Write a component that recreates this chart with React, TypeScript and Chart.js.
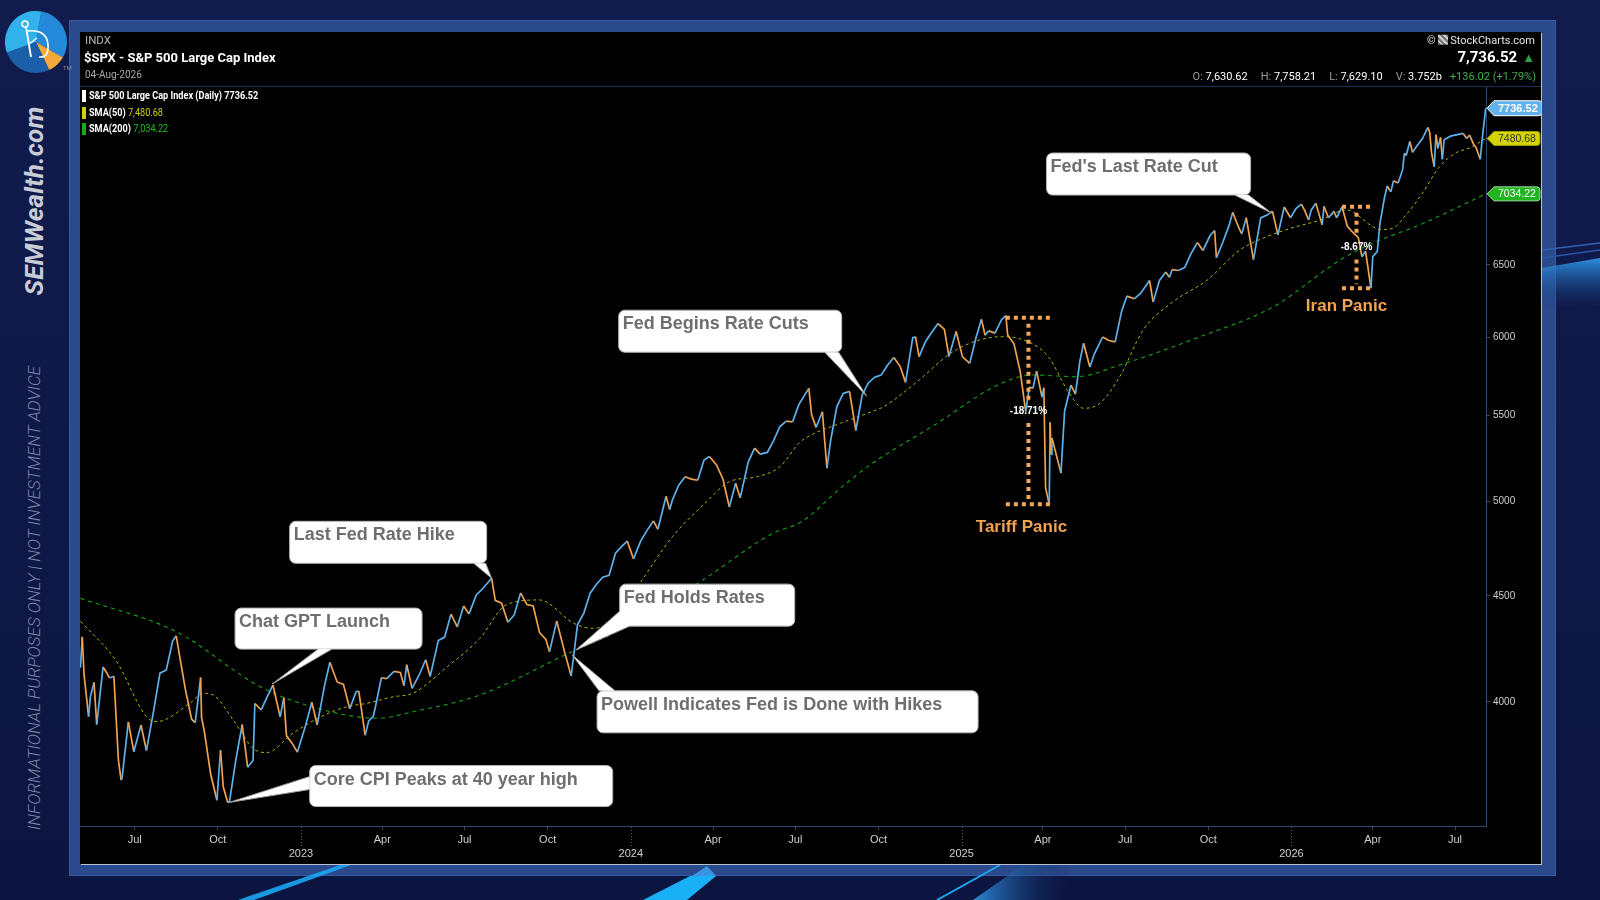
import React, { useEffect, useRef } from 'react';
import { Chart, registerables } from 'chart.js';

Chart.register(...registerables);

// ---------------- DATA ----------------
// S&P 500 closes [date, close]
const priceSeries: [string, number][] = [
  ['2022-05-02', 4155], ['2022-05-04', 4300], ['2022-05-06', 4123], ['2022-05-11', 3935], ['2022-05-13', 4023],
  ['2022-05-17', 4088], ['2022-05-20', 3901], ['2022-05-27', 4158], ['2022-05-31', 4132], ['2022-06-03', 4108],
  ['2022-06-08', 4116], ['2022-06-13', 3750], ['2022-06-16', 3667], ['2022-06-17', 3675], ['2022-06-24', 3912],
  ['2022-06-30', 3785], ['2022-07-08', 3899], ['2022-07-14', 3790], ['2022-07-22', 3962], ['2022-07-29', 4130],
  ['2022-08-05', 4145], ['2022-08-12', 4280], ['2022-08-16', 4305], ['2022-08-19', 4228], ['2022-08-26', 4058],
  ['2022-09-02', 3924], ['2022-09-06', 3909], ['2022-09-12', 4110], ['2022-09-13', 3932], ['2022-09-16', 3873],
  ['2022-09-23', 3693], ['2022-09-30', 3586], ['2022-10-04', 3791], ['2022-10-07', 3640], ['2022-10-12', 3577],
  ['2022-10-14', 3583], ['2022-10-21', 3752], ['2022-10-28', 3901], ['2022-11-03', 3720], ['2022-11-09', 3748],
  ['2022-11-11', 3993], ['2022-11-18', 3965], ['2022-11-25', 4026], ['2022-12-01', 4076], ['2022-12-09', 3934],
  ['2022-12-13', 4019], ['2022-12-16', 3852], ['2022-12-22', 3822], ['2022-12-28', 3783],
  ['2023-01-06', 3895], ['2023-01-13', 3999], ['2023-01-19', 3899], ['2023-01-27', 4071], ['2023-02-02', 4180],
  ['2023-02-10', 4090], ['2023-02-17', 4079], ['2023-02-24', 3970], ['2023-03-03', 4046], ['2023-03-06', 4048],
  ['2023-03-13', 3855], ['2023-03-17', 3917], ['2023-03-22', 3937], ['2023-03-24', 3971], ['2023-03-31', 4109],
  ['2023-04-06', 4105], ['2023-04-14', 4138], ['2023-04-21', 4133], ['2023-04-25', 4072], ['2023-04-28', 4169],
  ['2023-05-04', 4061], ['2023-05-12', 4124], ['2023-05-19', 4192], ['2023-05-24', 4115], ['2023-06-02', 4282],
  ['2023-06-09', 4299], ['2023-06-16', 4410], ['2023-06-23', 4348], ['2023-06-30', 4450], ['2023-07-06', 4411],
  ['2023-07-14', 4505], ['2023-07-21', 4536], ['2023-07-31', 4589], ['2023-08-04', 4478], ['2023-08-11', 4464],
  ['2023-08-18', 4370], ['2023-08-25', 4406], ['2023-09-01', 4515], ['2023-09-08', 4457], ['2023-09-15', 4450],
  ['2023-09-22', 4320], ['2023-09-29', 4288], ['2023-10-03', 4229], ['2023-10-11', 4376], ['2023-10-20', 4224],
  ['2023-10-27', 4117], ['2023-11-03', 4358], ['2023-11-10', 4415], ['2023-11-17', 4514], ['2023-11-24', 4559],
  ['2023-12-01', 4595], ['2023-12-08', 4604], ['2023-12-15', 4719], ['2023-12-22', 4755], ['2023-12-28', 4783],
  ['2024-01-04', 4689], ['2024-01-12', 4784], ['2024-01-19', 4840], ['2024-01-26', 4891], ['2024-01-31', 4846],
  ['2024-02-09', 5027], ['2024-02-13', 4953], ['2024-02-16', 5006], ['2024-02-23', 5089], ['2024-03-01', 5137],
  ['2024-03-08', 5124], ['2024-03-15', 5117], ['2024-03-22', 5234], ['2024-03-28', 5254], ['2024-04-05', 5204],
  ['2024-04-12', 5123], ['2024-04-19', 4967], ['2024-04-26', 5100], ['2024-05-01', 5018], ['2024-05-10', 5223],
  ['2024-05-17', 5303], ['2024-05-23', 5268], ['2024-05-31', 5278], ['2024-06-07', 5347], ['2024-06-14', 5432],
  ['2024-06-21', 5465], ['2024-06-28', 5460], ['2024-07-05', 5567], ['2024-07-16', 5667], ['2024-07-19', 5505],
  ['2024-07-24', 5427], ['2024-07-31', 5522], ['2024-08-05', 5186], ['2024-08-09', 5344], ['2024-08-16', 5554],
  ['2024-08-23', 5635], ['2024-08-30', 5648], ['2024-09-06', 5408], ['2024-09-13', 5626], ['2024-09-20', 5703],
  ['2024-09-27', 5738], ['2024-10-04', 5751], ['2024-10-11', 5815], ['2024-10-18', 5865], ['2024-10-25', 5808],
  ['2024-10-31', 5705], ['2024-11-08', 5996], ['2024-11-11', 6001], ['2024-11-15', 5871], ['2024-11-22', 5969],
  ['2024-11-29', 6032], ['2024-12-06', 6090], ['2024-12-13', 6051], ['2024-12-18', 5872], ['2024-12-26', 6037],
  ['2025-01-02', 5869], ['2025-01-10', 5827], ['2025-01-17', 5997], ['2025-01-23', 6119], ['2025-01-27', 6012],
  ['2025-01-31', 6041], ['2025-02-07', 6026], ['2025-02-14', 6115], ['2025-02-19', 6144], ['2025-02-21', 6013],
  ['2025-02-28', 5955], ['2025-03-07', 5770], ['2025-03-13', 5522], ['2025-03-17', 5675], ['2025-03-21', 5668],
  ['2025-03-25', 5777], ['2025-03-31', 5612], ['2025-04-02', 5671], ['2025-04-04', 5074], ['2025-04-08', 4982],
  ['2025-04-09', 5457], ['2025-04-10', 5268], ['2025-04-11', 5363], ['2025-04-21', 5158], ['2025-04-25', 5525],
  ['2025-05-02', 5687], ['2025-05-07', 5631], ['2025-05-12', 5844], ['2025-05-16', 5958], ['2025-05-23', 5803],
  ['2025-05-28', 5889], ['2025-06-06', 6000], ['2025-06-13', 5977], ['2025-06-20', 5968], ['2025-06-27', 6173],
  ['2025-07-03', 6279], ['2025-07-11', 6260], ['2025-07-18', 6297], ['2025-07-28', 6389], ['2025-08-01', 6238],
  ['2025-08-08', 6389], ['2025-08-15', 6450], ['2025-08-19', 6411], ['2025-08-22', 6467], ['2025-08-29', 6460],
  ['2025-09-05', 6482], ['2025-09-12', 6584], ['2025-09-19', 6664], ['2025-09-25', 6605], ['2025-10-03', 6716],
  ['2025-10-08', 6753], ['2025-10-10', 6552], ['2025-10-17', 6664], ['2025-10-24', 6792], ['2025-10-28', 6891],
  ['2025-11-04', 6771], ['2025-11-07', 6728], ['2025-11-12', 6851], ['2025-11-20', 6538], ['2025-11-28', 6849],
  ['2025-12-05', 6870], ['2025-12-11', 6901], ['2025-12-17', 6721], ['2025-12-24', 6932], ['2025-12-31', 6850],
  ['2026-01-06', 6920], ['2026-01-12', 6954], ['2026-01-16', 6900], ['2026-01-20', 6833], ['2026-01-23', 6910],
  ['2026-01-28', 6962], ['2026-02-04', 6796], ['2026-02-06', 6937], ['2026-02-11', 6850], ['2026-02-17', 6900],
  ['2026-02-20', 6850], ['2026-02-26', 6933], ['2026-03-04', 6783], ['2026-03-10', 6740], ['2026-03-16', 6700],
  ['2026-03-20', 6560], ['2026-03-24', 6600], ['2026-03-30', 6334], ['2026-04-01', 6560], ['2026-04-06', 6598],
  ['2026-04-09', 6810], ['2026-04-14', 7006], ['2026-04-17', 7096], ['2026-04-21', 7050], ['2026-04-24', 7138],
  ['2026-04-29', 7120], ['2026-05-04', 7224], ['2026-05-06', 7359], ['2026-05-08', 7340], ['2026-05-12', 7456],
  ['2026-05-15', 7366], ['2026-05-20', 7420], ['2026-05-26', 7480], ['2026-06-01', 7573], ['2026-06-03', 7530],
  ['2026-06-05', 7366], ['2026-06-08', 7251], ['2026-06-10', 7512], ['2026-06-12', 7398], ['2026-06-15', 7490],
  ['2026-06-17', 7310], ['2026-06-19', 7470], ['2026-06-26', 7500], ['2026-07-10', 7523], ['2026-07-14', 7480],
  ['2026-07-17', 7510], ['2026-07-22', 7425], ['2026-07-24', 7410], ['2026-07-29', 7310], ['2026-07-31', 7470],
  ['2026-08-04', 7736.52],
];

// SMA(50)
const sma50Series: [string, number][] = [
  ['2022-05-02', 4375], ['2022-06-10', 4190], ['2022-07-18', 3921], ['2022-07-26', 3914], ['2022-08-31', 3994],
  ['2022-09-15', 4039], ['2022-09-26', 4031], ['2022-10-18', 3921], ['2022-11-09', 3799], ['2022-11-24', 3781],
  ['2022-12-23', 3863], ['2023-01-23', 3935], ['2023-02-21', 3979], ['2023-03-15', 3994], ['2023-04-13', 4023],
  ['2023-05-05', 4039], ['2023-06-12', 4160], ['2023-07-18', 4293], ['2023-08-16', 4455], ['2023-09-22', 4480],
  ['2023-10-30', 4365], ['2023-11-20', 4341], ['2023-12-15', 4389], ['2024-01-11', 4564], ['2024-02-16', 4806],
  ['2024-03-25', 4997], ['2024-04-19', 5109], ['2024-05-20', 5138], ['2024-06-14', 5195], ['2024-07-05', 5332],
  ['2024-07-15', 5371], ['2024-08-20', 5452], ['2024-09-19', 5513], ['2024-10-07', 5554], ['2024-11-13', 5710],
  ['2024-12-20', 5893], ['2025-01-15', 5969], ['2025-02-14', 6002], ['2025-03-04', 5992], ['2025-04-07', 5870],
  ['2025-04-28', 5657], ['2025-05-16', 5543], ['2025-06-03', 5574], ['2025-06-25', 5741], ['2025-07-21', 6047],
  ['2025-08-22', 6235], ['2025-09-30', 6393], ['2025-11-05', 6609], ['2025-12-05', 6708], ['2025-12-31', 6770],
  ['2026-02-02', 6833], ['2026-03-03', 6910], ['2026-04-01', 6783], ['2026-04-10', 6760], ['2026-04-23', 6770],
  ['2026-05-08', 6873], ['2026-05-26', 7040], ['2026-06-14', 7251], ['2026-07-03', 7366], ['2026-07-17', 7402],
  ['2026-08-04', 7480.68],
];

// SMA(200)
const sma200Series: [string, number][] = [
  ['2022-05-02', 4488], ['2022-08-16', 4325], ['2022-11-17', 4068], ['2023-01-13', 3979], ['2023-03-27', 3928],
  ['2023-05-05', 3957], ['2023-07-18', 4031], ['2023-10-24', 4222], ['2023-12-28', 4349], ['2024-03-18', 4572],
  ['2024-06-06', 4824], ['2024-07-08', 4887], ['2024-08-20', 5072], ['2024-09-19', 5195], ['2024-12-02', 5441],
  ['2025-02-14', 5699], ['2025-03-21', 5752], ['2025-05-08', 5741], ['2025-06-25', 5816], ['2025-09-22', 6002],
  ['2025-12-12', 6205], ['2026-02-24', 6536], ['2026-04-01', 6659], ['2026-05-27', 6808], ['2026-08-04', 7034.22],
];

const yTickValues = [4000, 4500, 5000, 5500, 6000, 6500];
const xTicks: [string, string][] = [
  ['2022-07-01', 'Jul'], ['2022-10-01', 'Oct'], ['2023-01-01', '2023'], ['2023-04-01', 'Apr'],
  ['2023-07-01', 'Jul'], ['2023-10-01', 'Oct'], ['2024-01-01', '2024'], ['2024-04-01', 'Apr'],
  ['2024-07-01', 'Jul'], ['2024-10-01', 'Oct'], ['2025-01-01', '2025'], ['2025-04-01', 'Apr'],
  ['2025-07-01', 'Jul'], ['2025-10-01', 'Oct'], ['2026-01-01', '2026'], ['2026-04-01', 'Apr'],
  ['2026-07-01', 'Jul'],
];

const quote = { open: '7,630.62', high: '7,758.21', low: '7,629.10', vol: '3.752b', change: '+136.02 (+1.79%)', last: '7,736.52' };
const legendRows = [
  { name: 'S&P 500 Large Cap Index (Daily) 7736.52', value: '', swatch: '#ffffff', valueColor: '#ffffff' },
  { name: 'SMA(50)', value: '7,480.68', swatch: '#d2d200', valueColor: '#d2d200' },
  { name: 'SMA(200)', value: '7,034.22', swatch: '#16b016', valueColor: '#22bb22' },
];

// annotations: anchored at a data point; box offsets are layout
const callouts = [
  { text: 'Core CPI Peaks at 40 year high', date: '2022-10-13', price: 3577, dx: 81, dy: -37, w: 303, h: 41, tail: [[0, 11], [0, 24]] },
  { text: 'Chat GPT Launch', date: '2022-11-30', price: 4080, dx: -37, dy: -76, w: 187, h: 41, tail: [[83, 41], [97, 41]] },
  { text: 'Last Fed Rate Hike', date: '2023-07-31', price: 4589, dx: -202, dy: -57, w: 197, h: 42, tail: [[184, 42], [196, 42]] },
  { text: 'Fed Holds Rates', date: '2023-11-01', price: 4237, dx: 44, dy: -66, w: 175, h: 42, tail: [[0, 27], [10, 42]] },
  { text: 'Powell Indicates Fed is Done with Hikes', date: '2023-10-28', price: 4215, dx: 25, dy: 36, w: 381, h: 42, tail: [[2, 0], [18, 0]] },
  { text: 'Fed Begins Rate Cuts', date: '2024-09-18', price: 5618, dx: -248, dy: -86, w: 223, h: 42, tail: [[206, 42], [220, 42]] },
  { text: "Fed's Last Rate Cut", date: '2025-12-10', price: 6886, dx: -225, dy: -60, w: 204, h: 42, tail: [[188, 42], [202, 42]] },
];

const drawdowns = [
  { start: '2025-02-19', end: '2025-04-10', high: 6129, low: 4982, label: '-18.71%', title: 'Tariff Panic', tdx: -7, tdy: 23 },
  { start: '2026-02-26', end: '2026-03-30', high: 6935, low: 6334, label: '-8.67%', title: 'Iran Panic', tdx: -10, tdy: 18 },
];

// ---------------- HELPERS ----------------
const toDay = (s: string) => Date.parse(s + 'T00:00:00Z') / 86400000;
const X_MIN = toDay('2022-05-01') + 0.5;
const X_MAX = toDay('2026-08-04') + 0.3;
const Y_MIN = 3485;
const Y_MAX = 7921;

const BLUE = '#5db1ec';
const ORANGE = '#f0a24f';
const AXIS = '#2c4a70';
const SANS = '"Liberation Sans", Arial, sans-serif';

const isYear = (lbl: string) => /^\d{4}$/.test(lbl);

const notesPlugin = {
  id: 'notes',
  afterDatasetsDraw(chart: any) {
    const { ctx, scales } = chart;
    const xs = scales.x;
    const ys = scales.y;
    ctx.save();
    // drawdown brackets
    for (const d of drawdowns) {
      const x1 = xs.getPixelForValue(toDay(d.start));
      const x2 = xs.getPixelForValue(toDay(d.end));
      const xm = (x1 + x2) / 2;
      const yt = ys.getPixelForValue(d.high);
      const yb = ys.getPixelForValue(d.low);
      const ym = (yt + yb) / 2;
      ctx.strokeStyle = '#f3a65c';
      ctx.lineWidth = 4;
      ctx.setLineDash([4, 4]);
      ctx.beginPath();
      ctx.moveTo(x1, yt); ctx.lineTo(x2, yt);
      ctx.moveTo(x1, yb); ctx.lineTo(x2, yb);
      ctx.moveTo(xm, yt + 6); ctx.lineTo(xm, ym - 11);
      ctx.moveTo(xm, ym + 12); ctx.lineTo(xm, yb - 4);
      ctx.stroke();
      ctx.setLineDash([]);
      ctx.textAlign = 'center';
      ctx.textBaseline = 'middle';
      ctx.font = `bold 10px ${SANS}`;
      ctx.fillStyle = '#ffffff';
      ctx.fillText(d.label, xm, ym);
      ctx.font = `bold 17px ${SANS}`;
      ctx.fillStyle = '#f0a352';
      ctx.fillText(d.title, xm + d.tdx, yb + d.tdy);
    }
    // callouts
    for (const c of callouts) {
      const tx = xs.getPixelForValue(toDay(c.date));
      const ty = ys.getPixelForValue(c.price);
      const bx = tx + c.dx;
      const by = ty + c.dy;
      const [b1, b2] = c.tail;
      ctx.lineWidth = 1;
      ctx.strokeStyle = '#b5b5b5';
      ctx.fillStyle = '#ffffff';
      ctx.beginPath();
      (ctx as any).roundRect(bx, by, c.w, c.h, 6);
      ctx.fill();
      ctx.stroke();
      ctx.beginPath();
      ctx.moveTo(bx + b1[0], by + b1[1]);
      ctx.lineTo(tx, ty);
      ctx.lineTo(bx + b2[0], by + b2[1]);
      ctx.closePath();
      ctx.fill();
      ctx.beginPath();
      ctx.moveTo(bx + b1[0], by + b1[1]);
      ctx.lineTo(tx, ty);
      ctx.lineTo(bx + b2[0], by + b2[1]);
      ctx.strokeStyle = '#9a9a9a';
      ctx.stroke();
      ctx.font = `bold 18px ${SANS}`;
      ctx.fillStyle = '#6e6e6e';
      ctx.textAlign = 'left';
      ctx.textBaseline = 'alphabetic';
      ctx.fillText(c.text, bx + 4, by + 19);
    }
    ctx.restore();
  },
  afterDraw(chart: any) {
    const { ctx, scales, chartArea } = chart;
    const xs = scales.x;
    const ys = scales.y;
    ctx.save();
    // dotted year ticks
    ctx.strokeStyle = '#3b5a82';
    ctx.lineWidth = 1;
    ctx.setLineDash([1, 2]);
    for (const [d, lbl] of xTicks) {
      if (!isYear(lbl)) continue;
      const px = Math.round(xs.getPixelForValue(toDay(d))) + 0.5;
      ctx.beginPath();
      ctx.moveTo(px, chartArea.bottom + 1);
      ctx.lineTo(px, chartArea.bottom + 21);
      ctx.stroke();
    }
    ctx.setLineDash([]);
    // value tags on right axis
    const tags = [
      { v: priceSeries[priceSeries.length - 1][1], fill: '#63b1ea', stroke: '#ffffff', color: '#ffffff', font: `bold 11px ${SANS}`, h: 15 },
      { v: sma50Series[sma50Series.length - 1][1], fill: '#d4d400', stroke: '#9a9a00', color: '#333333', font: `10.5px ${SANS}`, h: 14 },
      { v: sma200Series[sma200Series.length - 1][1], fill: '#21b621', stroke: '#9ee09e', color: '#ffffff', font: `10.5px ${SANS}`, h: 14 },
    ];
    for (const t of tags) {
      const y = ys.getPixelForValue(t.v);
      const txt = t.v.toFixed(2);
      ctx.font = t.font;
      const tw = ctx.measureText(txt).width;
      const x0 = chartArea.right + 1;
      const ax = 7;
      const w = tw + 8;
      const h = t.h;
      ctx.beginPath();
      ctx.moveTo(x0, y);
      ctx.lineTo(x0 + ax, y - h / 2);
      ctx.lineTo(x0 + ax + w - 3, y - h / 2);
      ctx.quadraticCurveTo(x0 + ax + w, y - h / 2, x0 + ax + w, y - h / 2 + 3);
      ctx.lineTo(x0 + ax + w, y + h / 2 - 3);
      ctx.quadraticCurveTo(x0 + ax + w, y + h / 2, x0 + ax + w - 3, y + h / 2);
      ctx.lineTo(x0 + ax, y + h / 2);
      ctx.closePath();
      ctx.fillStyle = t.fill;
      ctx.fill();
      ctx.strokeStyle = t.stroke;
      ctx.lineWidth = 1;
      ctx.stroke();
      ctx.fillStyle = t.color;
      ctx.textAlign = 'center';
      ctx.textBaseline = 'middle';
      ctx.fillText(txt, x0 + ax + w / 2, y + 0.5);
    }
    ctx.restore();
  },
};

function PriceChart() {
  const ref = useRef<HTMLCanvasElement | null>(null);
  useEffect(() => {
    if (!ref.current) return;
    const chart = new Chart(ref.current, {
      type: 'line',
      data: {
        datasets: [
          {
            label: 'S&P 500',
            data: priceSeries.map(([d, v]) => ({ x: toDay(d), y: v })),
            borderColor: BLUE,
            borderWidth: 1.7,
            pointRadius: 0,
            tension: 0,
            segment: {
              borderColor: (c: any) => (c.p1.parsed.y >= c.p0.parsed.y ? BLUE : ORANGE),
            },
          },
          {
            label: 'SMA(50)',
            data: sma50Series.map(([d, v]) => ({ x: toDay(d), y: v })),
            borderColor: '#b4b400',
            borderWidth: 1,
            borderDash: [3, 3],
            pointRadius: 0,
            cubicInterpolationMode: 'monotone',
          },
          {
            label: 'SMA(200)',
            data: sma200Series.map(([d, v]) => ({ x: toDay(d), y: v })),
            borderColor: '#13a313',
            borderWidth: 1.1,
            borderDash: [4, 4],
            pointRadius: 0,
            cubicInterpolationMode: 'monotone',
          },
        ],
      } as any,
      options: {
        animation: false,
        responsive: false,
        maintainAspectRatio: false,
        events: [],
        layout: { padding: { top: 55, left: 0, right: 0, bottom: 0 } },
        plugins: { legend: { display: false }, tooltip: { enabled: false } },
        scales: {
          x: {
            type: 'linear',
            min: X_MIN,
            max: X_MAX,
            afterBuildTicks: (s: any) => {
              s.ticks = xTicks.map(([d]) => ({ value: toDay(d) }));
            },
            afterFit: (s: any) => {
              s.height = 38;
            },
            ticks: {
              autoSkip: false,
              maxRotation: 0,
              padding: 3,
              color: '#d0d0d0',
              font: { family: SANS, size: 11, lineHeight: 1.3 },
              callback: (_v: any, i: number) => {
                const lbl = xTicks[i] ? xTicks[i][1] : '';
                return isYear(lbl) ? ['', lbl] : lbl;
              },
            },
            grid: {
              drawOnChartArea: false,
              drawTicks: true,
              tickLength: 4,
              color: (c: any) => (xTicks[c.index] && isYear(xTicks[c.index][1]) ? 'rgba(0,0,0,0)' : AXIS),
            },
            border: { display: true, color: AXIS },
          },
          y: {
            type: 'logarithmic',
            position: 'right',
            min: Y_MIN,
            max: Y_MAX,
            afterBuildTicks: (s: any) => {
              s.ticks = yTickValues.map((v) => ({ value: v }));
            },
            afterFit: (s: any) => {
              s.width = 55;
            },
            ticks: {
              padding: 3,
              color: '#cfcfcf',
              font: { family: SANS, size: 10 },
              callback: (v: any) => String(v),
            },
            grid: { drawOnChartArea: false, drawTicks: true, tickLength: 4, color: AXIS },
            border: { display: true, color: AXIS },
          },
        },
      } as any,
      plugins: [notesPlugin],
    });
    return () => chart.destroy();
  }, []);
  return (
    <canvas
      ref={ref}
      width={1461}
      height={832}
      style={{ position: 'absolute', left: 80, top: 32, width: 1461, height: 832 }}
    />
  );
}

const txt = (x: number, y: number, style: React.CSSProperties, children: React.ReactNode, right = false) => (
  <div
    style={{
      position: 'absolute',
      left: right ? undefined : x,
      right: right ? 1600 - x : undefined,
      top: y,
      transform: 'translateY(-50%)',
      whiteSpace: 'nowrap',
      lineHeight: 1.15,
      ...style,
    }}
  >
    {children}
  </div>
);

function Logo() {
  const c = 32;
  const r = 31;
  const pt = (deg: number) => {
    const a = (deg * Math.PI) / 180;
    return `${(c + r * Math.cos(a)).toFixed(2)} ${(c + r * Math.sin(a)).toFixed(2)}`;
  };
  const wedge = (a1: number, a2: number) => `M${c} ${c} L${pt(a1)} A${r} ${r} 0 ${a2 - a1 > 180 ? 1 : 0} 1 ${pt(a2)} Z`;
  return (
    <svg style={{ position: 'absolute', left: 4, top: 10 }} width={64} height={64} viewBox="0 0 64 64">
      <path d={wedge(-80, 30)} fill="#2389d8" />
      <path d={wedge(30, 65)} fill="#f5a83c" />
      <path d={wedge(65, 160)} fill="#1b5ea9" />
      <path d={wedge(160, 280)} fill="#31b2ea" />
      <circle cx={21} cy={14} r={3} fill="none" stroke="#fff" strokeWidth={1.6} />
      <path d="M22 17 L27 47" stroke="#fff" strokeWidth={1.8} fill="none" />
      <path d="M23 21 Q43 19 44 35 Q45 48 35 47" stroke="#fff" strokeWidth={1.6} fill="none" />
      <path d="M25 34 L33 28" stroke="#fff" strokeWidth={1.4} fill="none" />
    </svg>
  );
}

export default function App() {
  return (
    <div
      style={{
        position: 'absolute',
        left: 0,
        top: 0,
        width: 1600,
        height: 900,
        overflow: 'hidden',
        background: 'linear-gradient(180deg, #111c4d 0%, #0e1846 60%, #0c1540 100%)',
        fontFamily: 'Roboto, sans-serif',
      }}
    >
      {/* frame */}
      <div style={{ position: 'absolute', left: 69, top: 20, width: 1487, height: 856, background: '#2b4a8b', boxShadow: 'inset 0 0 0 1px #3558a0' }} />
      {/* streaks */}
      <svg style={{ position: 'absolute', left: 0, top: 0 }} width={1600} height={900}>
        <defs>
          <linearGradient id="gRight" x1="0" y1="0" x2="0" y2="1">
            <stop offset="0" stopColor="#2f95e6" stopOpacity={0.95} />
            <stop offset="1" stopColor="#13306e" stopOpacity={0} />
          </linearGradient>
          <linearGradient id="gBottom" x1="0" y1="0" x2="1" y2="0">
            <stop offset="0" stopColor="#2f90e2" stopOpacity={0.95} />
            <stop offset="1" stopColor="#0c1540" stopOpacity={0} />
          </linearGradient>
        </defs>
        <polygon points="238,900 254,900 354,864 343,864" fill="#1aa6f2" opacity={0.9} />
        <polygon points="643,900 687,900 716,876 690,876" fill="#19b0f5" />
        <polygon points="692,876 716,876 707,866" fill="#3a94e2" />
        <line x1={937} y1={900} x2={1000} y2={865} stroke="#1ba8f0" strokeWidth={2} />
        <polygon points="973,900 1023,865 1075,865 1060,900" fill="url(#gBottom)" />
        <polygon points="1542,268 1600,258 1600,305 1542,310" fill="url(#gRight)" />
        <line x1={1542} y1={250} x2={1600} y2={243} stroke="#2f62b4" strokeWidth={1.5} />
        <line x1={1542} y1={258} x2={1600} y2={250} stroke="#2a58a8" strokeWidth={1.5} />
      </svg>
      {/* black panel */}
      <div style={{ position: 'absolute', left: 80, top: 32, width: 1461, height: 832, background: '#000', boxShadow: '1px 1px 0 0 #b9c2d3' }} />
      <div style={{ position: 'absolute', left: 80, top: 86, width: 1461, height: 1, background: '#1c2e52' }} />
      <PriceChart />

      {/* header left */}
      {txt(85, 41, { color: '#b5b5b5', fontSize: 11.5 }, 'INDX')}
      {txt(84, 58, { color: '#ffffff', fontSize: 13, fontWeight: 700 }, '$SPX - S&P 500 Large Cap Index')}
      {txt(85, 75, { color: '#aaaaaa', fontSize: 10 }, '04-Aug-2026')}
      {legendRows.map((r, i) => (
        <React.Fragment key={r.name}>
          <div style={{ position: 'absolute', left: 82, top: 90 + i * 16.5, width: 4, height: 12, background: r.swatch }} />
          {txt(89, 96 + i * 16.5, { color: '#ffffff', fontSize: 11, fontWeight: 700, transform: 'translateY(-50%) scaleX(0.83)', transformOrigin: 'left center' }, (
            <span>
              {r.name}
              {r.value ? <span style={{ color: r.valueColor, fontWeight: 400 }}> {r.value}</span> : null}
            </span>
          ))}
        </React.Fragment>
      ))}

      {/* header right */}
      {txt(1535, 41, { color: '#e6e6e6', fontSize: 11 }, (
        <span>
          ©{' '}
          <span style={{ display: 'inline-block', width: 10, height: 10, verticalAlign: '-1px', background: 'repeating-linear-gradient(45deg,#777 0 2px,#ccc 2px 4px)', marginRight: 2 }} />
          StockCharts.com
        </span>
      ), true)}
      {txt(1535, 58, { color: '#ffffff', fontSize: 15, fontWeight: 700 }, (
        <span>
          {quote.last}
          <span style={{ color: '#2ea043', fontSize: 13, marginLeft: 5 }}>▲</span>
        </span>
      ), true)}
      {txt(1536, 77, { color: '#ffffff', fontSize: 11 }, (
        <span>
          <span style={{ color: '#9a9a9a' }}>O: </span>{quote.open}
          <span style={{ color: '#9a9a9a', marginLeft: 13 }}>H: </span>{quote.high}
          <span style={{ color: '#9a9a9a', marginLeft: 13 }}>L: </span>{quote.low}
          <span style={{ color: '#9a9a9a', marginLeft: 13 }}>V: </span>{quote.vol}
          <span style={{ color: '#3fae49', marginLeft: 8 }}>{quote.change}</span>
        </span>
      ), true)}

      {/* left sidebar */}
      <Logo />
      <div style={{ position: 'absolute', left: 63, top: 64, fontSize: 6, color: '#8a8a9a' }}>TM</div>
      <div
        style={{
          position: 'absolute',
          left: 34,
          top: 201,
          transform: 'translate(-50%, -50%) rotate(-90deg)',
          whiteSpace: 'nowrap',
          color: '#c8ccd6',
          fontSize: 26,
          fontWeight: 700,
          fontStyle: 'italic',
          fontFamily: 'Roboto, sans-serif',
          letterSpacing: 0.2,
        }}
      >
        SEMWealth.com
      </div>
      <div
        style={{
          position: 'absolute',
          left: 34,
          top: 598,
          transform: 'translate(-50%, -50%) rotate(-90deg)',
          whiteSpace: 'nowrap',
          color: '#7d85a4',
          fontSize: 17,
          fontWeight: 300,
          fontStyle: 'italic',
          fontFamily: 'Roboto, sans-serif',
        }}
      >
        INFORMATIONAL PURPOSES ONLY | NOT INVESTMENT ADVICE
      </div>
    </div>
  );
}
